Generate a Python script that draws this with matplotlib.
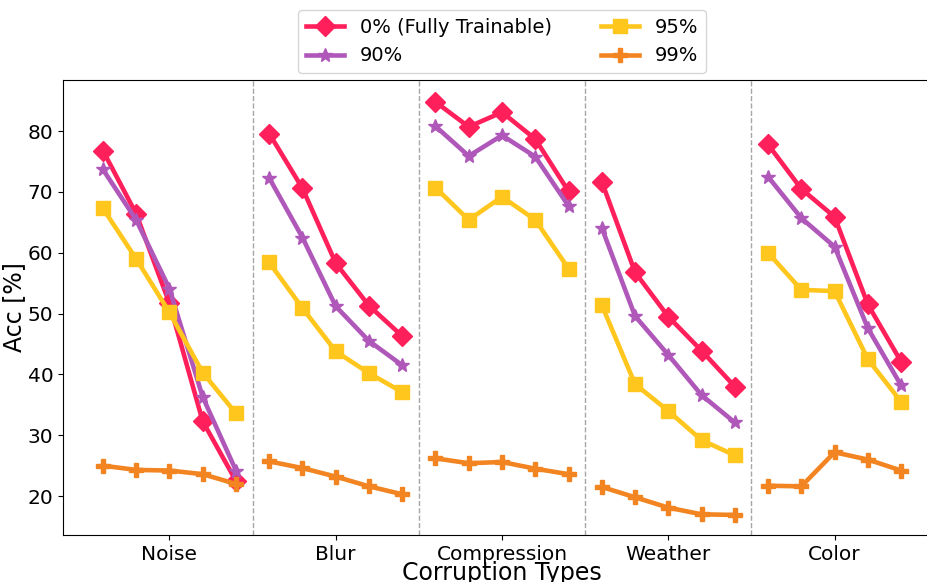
import matplotlib
matplotlib.use('Agg')
import matplotlib.pyplot as plt
import numpy as np

groups = ['Noise', 'Blur', 'Compression', 'Weather', 'Color']
labels = ['0% (Fully Trainable)', '90%', '95%', '99%']

acc_0 = [76.8, 66.4, 51.7, 32.3, 22.5,
         79.6, 70.6, 58.3, 51.3, 46.3,
         84.8, 80.7, 83.1, 78.7, 70.1,
         71.7, 56.8, 49.5, 43.9, 38.0,
         77.8, 70.5, 65.9, 51.5, 42.1]
acc_90 = [73.7, 65.4, 54.1, 36.3, 24.2,
          72.3, 62.5, 51.2, 45.5, 41.5,
          80.8, 75.9, 79.3, 75.8, 67.7,
          64.1, 49.6, 43.2, 36.6, 32.1,
          72.5, 65.7, 61.0, 47.6, 38.2]
acc_95 = [67.3, 59.0, 50.2, 40.3, 33.6,
          58.4, 50.9, 43.8, 40.2, 37.1,
          70.7, 65.4, 69.2, 65.4, 57.4,
          51.4, 38.4, 34.0, 29.2, 26.7,
          60.0, 53.9, 53.7, 42.5, 35.5]
acc_99 = [25.0, 24.3, 24.2, 23.6, 22.0,
          25.7, 24.6, 23.2, 21.6, 20.3,
          26.2, 25.4, 25.6, 24.5, 23.6,
          21.5, 19.8, 18.1, 17.0, 16.9,
          21.7, 21.6, 27.2, 26.0, 24.2]

series = [acc_0, acc_90, acc_95, acc_99]
colors = ['#FF1F5B', '#AF58BA', '#FFC61E', '#F28522']
markers = ['D', '*', 's', 'P']
sizes = [10.5, 10, 10.5, 10]

n = 5
fig = plt.figure(figsize=(9.28, 5.82), dpi=100)
ax = fig.add_axes([63 / 928, 47 / 582, 878 / 928, 455 / 582])

for vals, c, m, ms, lab in zip(series, colors, markers, sizes, labels):
    for g in range(len(groups)):
        x = np.arange(g * n, (g + 1) * n)
        ax.plot(x, vals[g * n:(g + 1) * n], color=c, marker=m, markersize=ms,
                linewidth=3.3, label=lab if g == 0 else None)

for g in range(1, len(groups)):
    ax.axvline(g * n - 0.5, color='gray', linestyle='--', linewidth=1, alpha=0.7)

ax.set_xticks([g * n + 2 for g in range(len(groups))])
ax.set_xticklabels(groups, fontsize=14.5)
ax.tick_params(axis='y', labelsize=14.5)
ax.set_xlim(-1.2, 25.2)
ax.set_ylim(13.6, 88.4)
ax.set_yticks([20, 30, 40, 50, 60, 70, 80])
ax.set_xlabel('Corruption Types', fontsize=17, labelpad=-2)
ax.set_ylabel('Acc [%]', fontsize=17, labelpad=1)
ax.legend(ncol=2, loc='lower center', bbox_to_anchor=(0.5, 1.015),
          borderaxespad=0, fontsize=14, columnspacing=2.5)

fig.savefig('out.png', dpi=100)
